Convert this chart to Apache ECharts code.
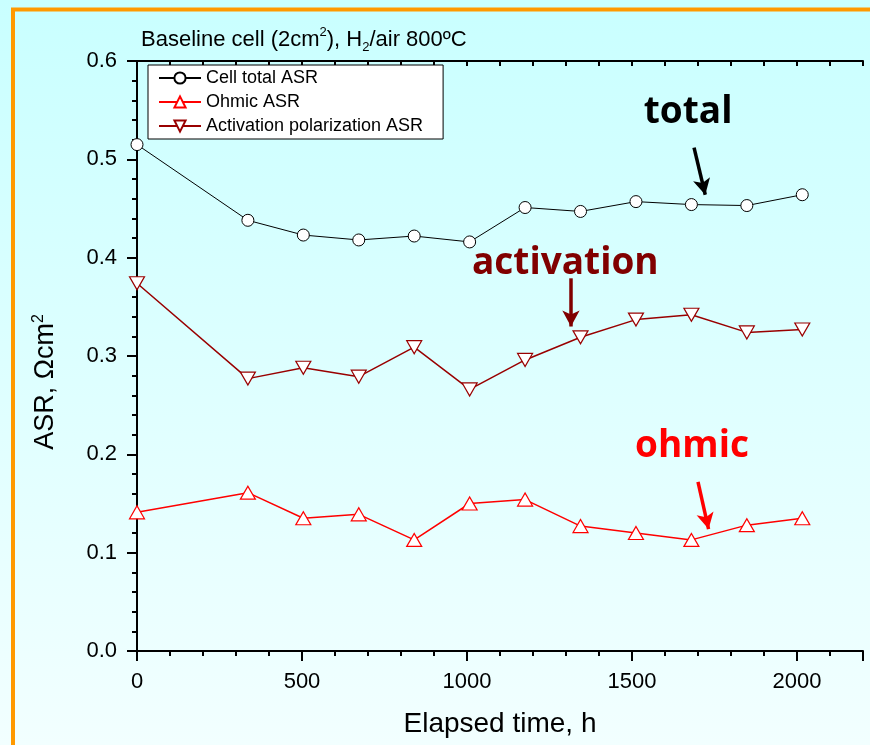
<!DOCTYPE html>
<html>
<head>
<meta charset="utf-8">
<script src="https://cdn.jsdelivr.net/npm/echarts@6/dist/echarts.min.js"></script>
<style>
  html, body { margin: 0; padding: 0; }
  #chart { width: 870px; height: 745px; }
</style>
</head>
<body>
<div id="chart"></div>
<script>
// elapsed time of each measurement (h), one week = 168 h
const hours = [0, 336, 504, 672, 840, 1008, 1176, 1344, 1512, 1680, 1848, 2016];
const totalAsr = [0.515, 0.438, 0.423, 0.418, 0.422, 0.416, 0.451, 0.447, 0.457, 0.454, 0.453, 0.464];
const ohmicAsr = [0.141, 0.161, 0.135, 0.139, 0.113, 0.150, 0.154, 0.127, 0.120, 0.113, 0.128, 0.135];
const activationAsr = [0.374, 0.277, 0.288, 0.279, 0.309, 0.266, 0.296, 0.319, 0.337, 0.342, 0.324, 0.327];
const xTicks = [0, 500, 1000, 1500, 2000];

const font = "Liberation Sans";
const toPairs = (vals) => hours.map((h, i) => [h, vals[i]]);

const chart = echarts.init(document.getElementById("chart"));

const arrow = (from, to, color) => ({
  silent: true,
  symbol: ["none", "arrow"],
  symbolSize: [13, 16],
  label: { show: false },
  lineStyle: { color: color, width: 3.5, type: "solid" },
  data: [[{ coord: from }, { coord: to }]],
});

const note = (text, at, color) => ({
  silent: true,
  symbol: "circle",
  symbolSize: 1,
  itemStyle: { color: "rgba(0,0,0,0)" },
  label: {
    show: true,
    position: "inside",
    formatter: text,
    color: color,
    fontFamily: "Open Sans",
    fontWeight: "bold",
    fontSize: 37,
  },
  data: [{ coord: at }],
});

chart.setOption({
  animation: false,
  backgroundColor: {
    type: "linear", x: 0, y: 0, x2: 0, y2: 1,
    colorStops: [
      { offset: 0, color: "#c9ffff" },
      { offset: 1, color: "#f2ffff" },
    ],
  },
  graphic: [
    {
      type: "rect",
      z: -1,
      shape: { x: 13, y: 9.5, width: 900, height: 800 },
      style: { fill: null, stroke: "#ff9900", lineWidth: 4 },
    },
  ],
  title: {
    left: 136,
    top: 21,
    text: "Baseline cell (2cm{sup|2}), H{sub|2}/air 800ºC",
    textStyle: {
      fontFamily: font,
      fontWeight: "normal",
      fontSize: 22,
      color: "#000",
      lineHeight: 28,
      rich: {
        sup: { fontFamily: font, fontSize: 13, verticalAlign: "top", lineHeight: 28, padding: [0, 0, 13, 0] },
        sub: { fontFamily: font, fontSize: 13, verticalAlign: "bottom", lineHeight: 28, padding: [11, 0, 0, 0] },
      },
    },
  },
  legend: {
    orient: "vertical",
    left: 148,
    top: 65,
    backgroundColor: "#fff",
    borderColor: "#000",
    borderWidth: 1,
    borderRadius: 0,
    padding: [4, 20, 4, 10],
    itemWidth: 42,
    itemHeight: 14,
    itemGap: 6,
    textStyle: { fontFamily: font, fontSize: 18, color: "#000" },
  },
  grid: { left: 137, right: 7, top: 61, bottom: 94 },
  xAxis: [
    {
      type: "value",
      min: 0,
      max: 2200,
      interval: 500,
      position: "bottom",
      name: "Elapsed time, h",
      nameLocation: "middle",
      nameGap: 59,
      nameTextStyle: { fontFamily: font, fontSize: 28, color: "#000" },
      axisLine: { lineStyle: { color: "#000", width: 2 } },
      axisTick: { length: 10, lineStyle: { color: "#000", width: 2 } },
      axisLabel: {
        margin: 20,
        fontFamily: font,
        fontSize: 22,
        color: "#000",
        formatter: (v) => (xTicks.includes(v) ? String(v) : ""),
      },
      splitLine: { show: false },
    },
    {
      type: "value",
      min: 0,
      max: 2200,
      interval: 100,
      position: "bottom",
      axisLine: { show: false },
      axisTick: { length: 5, lineStyle: { color: "#000", width: 2 } },
      axisLabel: { show: false },
      splitLine: { show: false },
    },
    {
      type: "value",
      min: 0,
      max: 2200,
      interval: 100,
      position: "top",
      axisLine: { lineStyle: { color: "#000", width: 2 } },
      axisTick: { inside: true, length: 5, lineStyle: { color: "#000", width: 2 } },
      axisLabel: { show: false },
      splitLine: { show: false },
    },
  ],
  yAxis: [
    {
      type: "value",
      min: 0,
      max: 0.6,
      interval: 0.1,
      position: "left",
      name: "ASR, Ωcm{sup|2}",
      nameLocation: "middle",
      nameGap: 76,
      nameTextStyle: {
        fontFamily: font,
        fontSize: 27,
        color: "#000",
        padding: [0, 52, 0, 0],
        rich: {
          sup: { fontFamily: font, fontSize: 16, verticalAlign: "top", padding: [0, 0, 14, 0] },
        },
      },
      axisLine: { lineStyle: { color: "#000", width: 2 } },
      axisTick: { length: 10, lineStyle: { color: "#000", width: 2 } },
      minorTick: { show: true, splitNumber: 5, length: 5, lineStyle: { color: "#000", width: 2 } },
      axisLabel: {
        margin: 20,
        fontFamily: font,
        fontSize: 22,
        color: "#000",
        formatter: (v) => v.toFixed(1),
      },
      splitLine: { show: false },
    },
    {
      type: "value",
      min: 0,
      max: 0.6,
      interval: 0.02,
      position: "right",
      axisLine: { lineStyle: { color: "#000", width: 2 } },
      axisTick: { inside: true, length: 5, lineStyle: { color: "#000", width: 2 } },
      axisLabel: { show: false },
      splitLine: { show: false },
    },
  ],
  series: [
    {
      name: "Cell total ASR",
      type: "line",
      data: toPairs(totalAsr),
      symbol: "circle",
      symbolSize: 12,
      lineStyle: { color: "#000", width: 1 },
      itemStyle: { color: "#fff", borderColor: "#000", borderWidth: 1 },
      emphasis: { disabled: true },
      markLine: arrow([1688, 0.512], [1722, 0.464], "#000"),
      markPoint: note("total", [1670, 0.548], "#000"),
    },
    {
      name: "Ohmic ASR",
      type: "line",
      data: toPairs(ohmicAsr),
      symbol: "triangle",
      symbolSize: [15, 13],
      lineStyle: { color: "#ff0000", width: 1.5 },
      itemStyle: { color: "#fff", borderColor: "#ff0000", borderWidth: 1.2 },
      emphasis: { disabled: true },
      markLine: arrow([1700, 0.172], [1732, 0.124], "#ff0000"),
      markPoint: note("ohmic", [1682, 0.208], "#ff0000"),
    },
    {
      name: "Activation polarization ASR",
      type: "line",
      data: toPairs(activationAsr),
      symbol: "path://M0,0 L10,0 L5,9 Z",
      symbolSize: [15, 13],
      lineStyle: { color: "#990000", width: 1.5 },
      itemStyle: { color: "#fff", borderColor: "#990000", borderWidth: 1.2 },
      emphasis: { disabled: true },
      markLine: arrow([1315, 0.379], [1315, 0.330], "#800000"),
      markPoint: note("activation", [1298, 0.394], "#800000"),
    },
  ],
});
</script>
</body>
</html>
